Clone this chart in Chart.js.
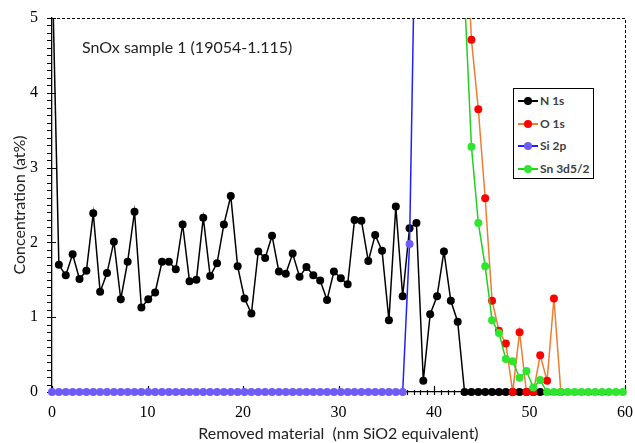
<!DOCTYPE html>
<html>
<head>
<meta charset="utf-8">
<script src="https://cdn.jsdelivr.net/npm/chart.js@4/dist/chart.umd.min.js"></script>
<style>
  html, body { margin: 0; padding: 0; background: #fff; }
  #wrap { position: relative; width: 635px; height: 443px; }
  #note { position: absolute; left: 82px; top: 37px; font: 16px Lato, sans-serif; color: #222; white-space: nowrap; }
  #legend { position: absolute; left: 513px; top: 88px; width: 79px; height: 89px; border: 1px solid #000; background: #fff; }
  .item { position: absolute; left: 4px; height: 14px; font: bold 12px Lato, sans-serif; color: #404040; white-space: nowrap; }
  .item .ln { position: absolute; left: 0; top: 6px; width: 20px; height: 2px; }
  .item .dt { position: absolute; left: 6px; top: 3px; width: 8px; height: 8px; border-radius: 50%; }
  .item .tx { position: absolute; left: 22px; top: -1px; }
</style>
</head>
<body>
<div id="wrap">
  <canvas id="chart" width="635" height="443"></canvas>
  <div id="note">SnOx sample 1 (19054-1.115)</div>
  <div id="legend"></div>
</div>
<script>
// depth of each sputter step (nm SiO2 equivalent)
const depth = [0, 0.72, 1.44, 2.16, 2.88, 3.6, 4.32, 5.04, 5.76, 6.48, 7.2, 7.92, 8.64, 9.36, 10.08, 10.8,
  11.52, 12.24, 12.96, 13.68, 14.4, 15.12, 15.84, 16.56, 17.28, 18, 18.72, 19.44, 20.16, 20.88, 21.6,
  22.32, 23.04, 23.76, 24.48, 25.2, 25.92, 26.64, 27.36, 28.08, 28.8, 29.52, 30.24, 30.96, 31.68, 32.4,
  33.12, 33.84, 34.56, 35.28, 36, 36.72, 37.44, 38.16, 38.88, 39.6, 40.32, 41.04, 41.76, 42.48, 43.2,
  43.92, 44.64, 45.36, 46.08, 46.8, 47.52, 48.24, 48.96, 49.68, 50.4, 51.12, 51.84, 52.56, 53.28, 54,
  54.72, 55.44, 56.16, 56.88, 57.6, 58.32, 59.04, 59.76];

const n1s = [5.8, 1.70, 1.56, 1.84, 1.51, 1.62, 2.39, 1.34, 1.59, 2.01, 1.24, 1.74, 2.41, 1.13, 1.24, 1.33,
  1.74, 1.74, 1.64, 2.24, 1.48, 1.50, 2.33, 1.55, 1.72, 2.24, 2.62, 1.68, 1.25, 1.05, 1.88, 1.79, 2.09,
  1.61, 1.58, 1.85, 1.54, 1.67, 1.56, 1.49, 1.23, 1.61, 1.52, 1.44, 2.30, 2.29, 1.75, 2.10, 1.89, 0.96,
  2.48, 1.28, 2.19, 2.26, 0.15, 1.04, 1.28, 1.88, 1.22, 0.94, 0, 0, 0, 0, 0, 0, 0, 0, 0, 0, 0, 0];

const o1s = [null, null, null, null, null, null, null, null, null, null, null, null, null, null, null, null,
  null, null, null, null, null, null, null, null, null, null, null, null, null, null, null, null, null,
  null, null, null, null, null, null, null, null, null, null, null, null, null, null, null, null, null,
  null, null, null, null, null, null, null, null, null, null, 6.6, 4.71, 3.78, 2.59, 1.22, 0.82, 0.65,
  0, 0.80, 0, 0, 0.49, 0.15, 1.25, 0];

const si2p = [0, 0, 0, 0, 0, 0, 0, 0, 0, 0, 0, 0, 0, 0, 0, 0, 0, 0, 0, 0, 0, 0, 0, 0, 0, 0, 0, 0, 0, 0,
  0, 0, 0, 0, 0, 0, 0, 0, 0, 0, 0, 0, 0, 0, 0, 0, 0, 0, 0, 0, 0, 0, 1.98, 7.3];

const sn3d = [null, null, null, null, null, null, null, null, null, null, null, null, null, null, null, null,
  null, null, null, null, null, null, null, null, null, null, null, null, null, null, null, null, null,
  null, null, null, null, null, null, null, null, null, null, null, null, null, null, null, null, null,
  null, null, null, null, null, null, null, null, null, null, 5.3, 3.28, 2.26, 1.68, 0.96, 0.79, 0.44,
  0.41, 0.19, 0.28, 0.06, 0.16, 0, 0, 0, 0, 0, 0, 0, 0, 0, 0, 0, 0];

const seriesNames = ['N 1s', 'O 1s', 'Si 2p', 'Sn 3d5/2'];
const lineColors = ['#000000', '#ed7d31', '#1f1fff', '#22d022'];
const pointColors = ['#000000', '#ff0000', '#6f5cf8', '#2ee62e'];
const yTicks = [0, 1, 2, 3, 4, 5];
const xTicks = [0, 10, 20, 30, 40, 50, 60];

function pairs(vals) {
  return vals.map((v, i) => ({ x: depth[i], y: v }));
}

const allSeries = [n1s, o1s, si2p, sn3d];
const drawOrder = [3, 1, 2, 0]; // Sn on top, then O, Si, N

const datasets = allSeries.map((vals, k) => ({
  label: seriesNames[k],
  data: pairs(vals),
  borderColor: lineColors[k],
  backgroundColor: pointColors[k],
  pointBackgroundColor: pointColors[k],
  pointBorderColor: pointColors[k],
  pointBorderWidth: 0,
  pointRadius: 4,
  borderWidth: 1.5,
  tension: 0,
  spanGaps: false,
  order: drawOrder[k],
  clip: { left: 6, top: 0, right: 6, bottom: 6 }
}));

// tick marks and dashed frame, placed through the chart's scales
const frame = {
  id: 'frame',
  beforeDatasetsDraw(chart) {
    const { ctx, chartArea: a, scales: { x, y } } = chart;
    ctx.save();
    ctx.strokeStyle = '#000';
    ctx.lineWidth = 1;
    ctx.setLineDash([3, 2]);
    ctx.beginPath();
    ctx.moveTo(a.left, a.top + 0.5);
    ctx.lineTo(a.right + 0.5, a.top + 0.5);
    ctx.lineTo(a.right + 0.5, a.bottom);
    ctx.stroke();
    ctx.setLineDash([]);
    ctx.lineWidth = 1.2;
    ctx.beginPath();
    for (let k = 0; k <= 50; k++) {
      const py = Math.round(y.getPixelForValue(k / 10)) + 0.5;
      const major = k % 10 === 0;
      ctx.moveTo(a.left - 5, py);
      ctx.lineTo(a.left + (major ? 4 : 0), py);
    }
    for (let k = 0; k <= 84; k++) {
      const px = Math.round(x.getPixelForValue(k * 10 / 14)) + 0.5;
      const major = k % 14 === 0;
      ctx.moveTo(px, a.bottom + 3);
      ctx.lineTo(px, a.bottom - (major ? 6 : 2));
    }
    ctx.stroke();
    ctx.restore();
  }
};

new Chart(document.getElementById('chart'), {
  type: 'line',
  data: { datasets },
  options: {
    responsive: false,
    animation: false,
    layout: { padding: { top: 18, right: 10, left: 0, bottom: 0 } },
    plugins: { legend: { display: false }, tooltip: { enabled: false } },
    scales: {
      x: {
        type: 'linear',
        min: 0, max: 60,
        afterFit(s) { s.height = 51; s.paddingLeft = 0; s.paddingRight = 0; },
        afterBuildTicks(s) { s.ticks = xTicks.map(v => ({ value: v })); },
        grid: { display: false, drawTicks: false },
        border: { display: true, color: '#000', width: 1.3 },
        ticks: { padding: 11, color: '#000', font: { family: 'Liberation Serif', size: 16 } },
        title: { display: true, text: 'Removed material  (nm SiO2 equivalent)', color: '#222',
          font: { family: 'Lato', size: 16 }, padding: { top: 0, bottom: 0 } }
      },
      y: {
        min: 0, max: 5,
        afterFit(s) { s.width = 52; s.paddingTop = 0; s.paddingBottom = 0; },
        afterBuildTicks(s) { s.ticks = yTicks.map(v => ({ value: v })); },
        grid: { display: false, drawTicks: false },
        border: { display: true, color: '#000', width: 1.3 },
        ticks: { padding: 14, color: '#000', font: { family: 'Liberation Serif', size: 16 } },
        title: { display: true, text: 'Concentration (at%)', color: '#222',
          font: { family: 'Lato', size: 16 }, padding: { top: 10, bottom: 0 } }
      }
    }
  },
  plugins: [frame]
});

// legend drawn as html inside the plot, like the original
const legend = document.getElementById('legend');
seriesNames.forEach((name, k) => {
  const item = document.createElement('div');
  item.className = 'item';
  item.style.top = (5 + k * 22.7) + 'px';
  item.innerHTML = '<span class="ln" style="background:' + lineColors[k] + '"></span>' +
    '<span class="dt" style="background:' + pointColors[k] + '"></span>' +
    '<span class="tx">' + name + '</span>';
  legend.appendChild(item);
});
</script>
</body>
</html>
